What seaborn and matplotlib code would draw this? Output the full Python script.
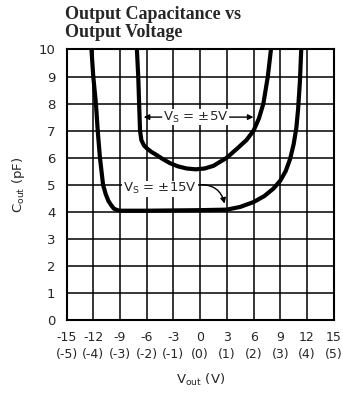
import matplotlib
matplotlib.use("Agg")
import matplotlib.pyplot as plt
import numpy as np
import seaborn as sns

# Datos (V de salida, capacitancia en pF)
vs15_v = [-12.2, -12.0, -11.7, -11.5, -11.25, -10.9, -10.6, -10.3, -10.0, -9.7, -9.3, -9.0,
          -6.0, -3.0, 0.0, 3.0, 4.5, 6.0, 7.2, 8.2, 9.0, 9.6, 10.1, 10.5, 10.8, 11.0, 11.2, 11.35]
vs15_c = [10.0, 9.0, 8.0, 7.0, 6.0, 5.0, 4.65, 4.4, 4.25, 4.12, 4.06, 4.04,
          4.04, 4.05, 4.06, 4.08, 4.18, 4.36, 4.58, 4.85, 5.15, 5.5, 5.95, 6.5, 7.1, 7.8, 8.8, 10.0]

vs5_v = [-7.1, -6.95, -6.85, -6.75, -6.6, -6.3, -6.0, -5.5, -4.9, -4.2, -3.4, -2.5, -1.5, -0.5,
         0.5, 1.5, 3.0, 4.2, 5.2, 6.0, 6.6, 7.1, 7.6, 7.95]
vs5_c = [10.0, 9.0, 8.0, 7.0, 6.65, 6.45, 6.35, 6.22, 6.1, 5.95, 5.8, 5.68, 5.6, 5.57,
         5.6, 5.7, 6.0, 6.35, 6.65, 7.0, 7.45, 8.0, 9.0, 10.0]

xticks = [-15, -12, -9, -6, -3, 0, 3, 6, 9, 12, 15]
xlabels = ["-15\n(-5)", "-12\n(-4)", "-9\n(-3)", "-6\n(-2)", "-3\n(-1)", "0\n(0)",
           "3\n(1)", "6\n(2)", "9\n(3)", "12\n(4)", "15\n(5)"]
yticks = list(range(0, 11))

sns.set_style("white")
plt.rcParams['font.family'] = ['DejaVu Sans']

fig = plt.figure(figsize=(3.43, 3.99), dpi=100)
ax = fig.add_axes([0.194, 0.198, 0.779, 0.678])

# Lineas de la cuadricula
for x in xticks:
    ax.axvline(x, color='black', lw=1.1, zorder=1)
for y in yticks:
    ax.axhline(y, color='black', lw=1.1, zorder=1)

sns.lineplot(x=vs15_v, y=vs15_c, color='black', lw=3.0, ax=ax, zorder=3)
sns.lineplot(x=vs5_v, y=vs5_c, color='black', lw=3.0, ax=ax, zorder=3)

ax.set_xlim(-15, 15)
ax.set_ylim(0, 10)
ax.set_xticks(xticks)
ax.set_xticklabels(xlabels, fontsize=9, linespacing=1.35)
ax.set_yticks(yticks)
ax.set_yticklabels([str(t) for t in yticks], fontsize=9.5)
ax.tick_params(axis='both', length=0)
ax.tick_params(axis='x', pad=8)
ax.tick_params(axis='y', pad=8)
for s in ax.spines.values():
    s.set_linewidth(1.5)
    s.set_color('black')

ax.set_xlabel(r"$\mathregular{V_{out}}$ (V)", fontsize=9.5, labelpad=8)
ax.set_ylabel(r"$\mathregular{C_{out}}$ (pF)", fontsize=9.5, labelpad=8)

# Etiquetas de las curvas
bbox = dict(facecolor='white', edgecolor='none', pad=0.5)
ax.text(-0.5, 7.5, r"$\mathregular{V_S}$ = " + "\u00b15V", fontsize=9.5,
        ha='center', va='center', bbox=bbox, zorder=4)
ax.annotate("", xy=(-6.65, 7.5), xytext=(-4.0, 7.5),
            arrowprops=dict(arrowstyle='-|>', color='black', lw=1.0, mutation_scale=8), zorder=4)
ax.annotate("", xy=(6.3, 7.5), xytext=(3.0, 7.5),
            arrowprops=dict(arrowstyle='-|>', color='black', lw=1.0, mutation_scale=8), zorder=4)

ax.text(-4.5, 4.85, r"$\mathregular{V_S}$ = " + "\u00b115V", fontsize=9.5,
        ha='center', va='center', bbox=bbox, zorder=4)
ax.annotate("", xy=(2.8, 4.2), xytext=(-0.3, 5.0),
            arrowprops=dict(arrowstyle='-|>', color='black', lw=1.0, mutation_scale=8,
                            connectionstyle='arc3,rad=-0.45'), zorder=4)

fig.text(0.19, 0.985, "Output Capacitance vs\nOutput Voltage", ha='left', va='top',
         fontsize=13, fontweight='bold', family='Liberation Serif', linespacing=1.05)

fig.savefig("out.png", dpi=100)
